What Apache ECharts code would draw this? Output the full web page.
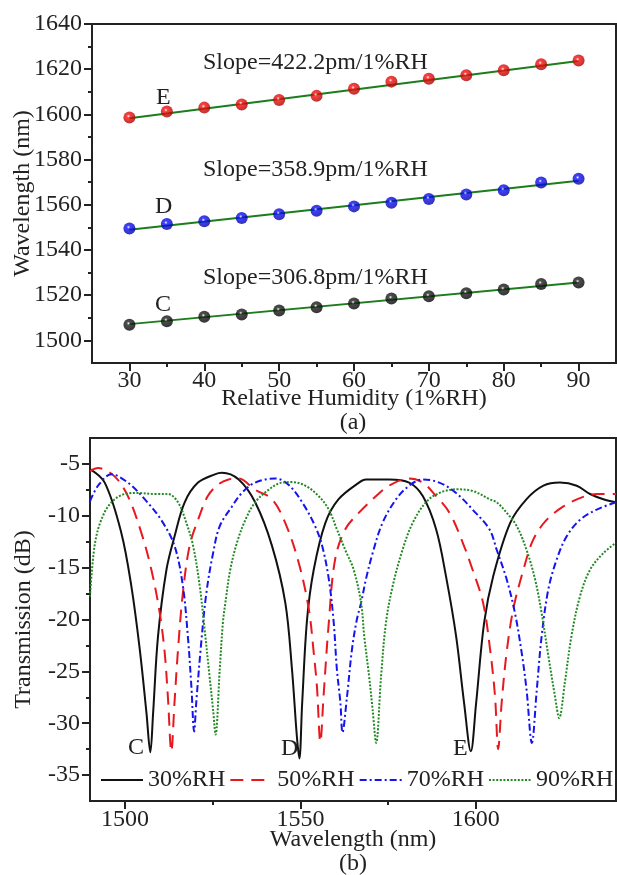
<!DOCTYPE html>
<html>
<head>
<meta charset="utf-8">
<script src="https://cdn.jsdelivr.net/npm/echarts@6/dist/echarts.min.js"></script>
<style>
  html, body { margin: 0; padding: 0; background: #fff; overflow: hidden; }
  #chart { width: 617px; height: 875px; }
</style>
</head>
<body>
<div id="chart"></div>
<script>
// (a) resonance dip wavelength vs relative humidity
const humidity = [30, 35, 40, 45, 50, 55, 60, 65, 70, 75, 80, 85, 90];
const dipE = [1598.6, 1601.3, 1603.0, 1604.4, 1606.4, 1608.2, 1611.3, 1614.5, 1615.8, 1617.3, 1619.5, 1622.2, 1623.8];
const dipD = [1549.5, 1551.5, 1552.7, 1554.2, 1555.8, 1557.4, 1559.3, 1560.9, 1562.6, 1564.6, 1566.4, 1569.9, 1571.5];
const dipC = [1506.9, 1508.5, 1510.5, 1511.5, 1513.2, 1514.7, 1516.3, 1518.5, 1519.5, 1520.9, 1522.5, 1525.0, 1525.6];

// linear fits (end points)
const fitRH = [30, 90];
const fitE = [1598.3, 1623.6];
const fitD = [1549.0, 1570.6];
const fitC = [1507.2, 1525.6];

const slopeLabels = ['Slope=422.2pm/1%RH', 'Slope=358.9pm/1%RH', 'Slope=306.8pm/1%RH'];

// tick values
const rhMajor = [30, 40, 50, 60, 70, 80, 90];
const rhMinor = [35, 45, 55, 65, 75, 85];
const wlMajor = [1500, 1520, 1540, 1560, 1580, 1600, 1620, 1640];
const wlMinor = [1510, 1530, 1550, 1570, 1590, 1610, 1630];
const specMajor = [1500, 1550, 1600];
const specMinor = [1525, 1575];
const dbMajor = [-35, -30, -25, -20, -15, -10, -5];
const dbMinor = [-32.5, -27.5, -22.5, -17.5, -12.5, -7.5];

// (b) transmission spectra [wavelength nm, dB]
const rh30 = [[1490,-5.5],[1494.2,-6.8],[1498.9,-11.6],[1501.8,-16.8],[1504.2,-22.9],[1506.1,-29.0],[1507.2,-32.8],[1508.0,-29.0],[1509.4,-21.6],[1511.8,-15.2],[1514.1,-12.0],[1517.0,-8.7],[1520.8,-6.8],[1525.6,-6.0],[1527.6,-5.85],[1532.4,-6.5],[1537.1,-8.7],[1541.9,-12.9],[1545.7,-18.4],[1547.6,-24.8],[1549.0,-31.3],[1549.7,-33.4],[1550.5,-28.1],[1551.9,-20.0],[1553.8,-15.2],[1557.1,-10.7],[1560.9,-8.4],[1566.7,-6.8],[1568.7,-6.5],[1575.3,-6.5],[1581.0,-6.8],[1584.9,-8.1],[1588.7,-11.3],[1591.5,-15.8],[1594.4,-21.6],[1596.7,-28.1],[1598.6,-32.7],[1600.1,-28.1],[1602.4,-20.3],[1605.0,-15.8],[1609.8,-10.7],[1614.5,-8.4],[1619.3,-7.1],[1624.0,-6.8],[1628.8,-7.1],[1632.6,-7.9],[1636.4,-8.4],[1640,-8.7]];
const rh50 = [[1490,-5.7],[1492.3,-5.4],[1497.0,-6.2],[1500.8,-8.1],[1504.6,-11.6],[1507.5,-15.2],[1509.9,-19.4],[1511.3,-23.2],[1512.2,-27.4],[1513.2,-32.7],[1514.1,-28.0],[1515.1,-22.9],[1516.5,-17.4],[1518.4,-12.9],[1520.8,-10.4],[1523.6,-8.1],[1526.5,-7.0],[1529.5,-6.5],[1532.4,-6.4],[1537.1,-7.5],[1541.9,-8.4],[1545.7,-10.7],[1549.5,-14.5],[1552.4,-19.0],[1553.8,-23.2],[1554.7,-26.4],[1555.7,-31.8],[1556.6,-27.4],[1558.1,-20.3],[1559.9,-14.2],[1562.8,-11.3],[1566.7,-9.7],[1571.6,-8.1],[1575.3,-7.1],[1581.0,-6.4],[1584.9,-6.8],[1588.7,-8.1],[1592.5,-9.7],[1596.3,-12.6],[1599.1,-15.2],[1602.1,-18.4],[1604.1,-22.9],[1605.5,-27.4],[1606.4,-32.5],[1607.4,-28.0],[1608.8,-23.2],[1610.7,-19.0],[1613.6,-15.2],[1616.4,-12.3],[1620.2,-10.4],[1625.0,-9.1],[1629.7,-8.3],[1634.5,-7.9],[1640,-7.9]];
const rh70 = [[1490,-8.6],[1492.3,-7.1],[1496.1,-6.0],[1500.8,-6.8],[1505.6,-8.4],[1510.3,-10.4],[1514.1,-12.9],[1516.5,-16.8],[1517.9,-21.6],[1518.9,-26.4],[1519.7,-30.8],[1520.3,-28.0],[1521.7,-22.3],[1523.2,-17.4],[1525.1,-13.6],[1527.0,-11.0],[1530.5,-9.1],[1533.3,-7.8],[1537.1,-6.8],[1542.8,-6.4],[1546.6,-7.0],[1550.5,-8.7],[1554.2,-11.0],[1556.2,-12.9],[1558.1,-16.1],[1559.5,-20.3],[1560.4,-24.8],[1561.4,-28.0],[1562.0,-30.9],[1563.3,-27.4],[1564.7,-22.9],[1566.1,-20.0],[1567.3,-18.4],[1568.7,-16.1],[1570.6,-13.6],[1573.4,-10.7],[1577.3,-8.4],[1581.0,-7.1],[1584.9,-6.5],[1589.6,-6.8],[1594.4,-7.8],[1599.1,-9.4],[1603.9,-11.3],[1606.0,-13.3],[1608.8,-16.1],[1611.2,-19.4],[1613.1,-23.2],[1614.5,-26.8],[1616.0,-31.9],[1617.4,-26.8],[1618.8,-21.6],[1620.7,-17.1],[1623.1,-14.2],[1625.9,-12.0],[1629.7,-10.4],[1634.5,-9.4],[1640,-8.7]];
const rh90 = [[1490,-17.8],[1491.3,-12.9],[1493.2,-10.4],[1496.1,-8.7],[1499.9,-7.9],[1503.7,-7.8],[1508.4,-7.9],[1512.2,-7.9],[1515.1,-8.7],[1517.5,-10.7],[1519.4,-12.9],[1521.3,-16.8],[1522.7,-21.0],[1524.1,-25.5],[1525.1,-28.7],[1525.8,-31.1],[1527.0,-24.8],[1527.9,-20.3],[1528.6,-18.4],[1530.0,-15.2],[1531.9,-12.6],[1534.3,-10.4],[1537.1,-8.7],[1540.9,-7.5],[1544.7,-6.8],[1547.6,-6.75],[1551.4,-7.1],[1555.2,-8.1],[1558.1,-9.4],[1560.4,-11.3],[1562.8,-13.3],[1565.2,-15.2],[1567.3,-18.4],[1568.2,-21.6],[1569.6,-25.5],[1570.6,-28.7],[1571.6,-31.9],[1573.0,-25.5],[1574.4,-20.3],[1576.3,-16.8],[1579.1,-13.3],[1582.0,-10.7],[1585.8,-8.7],[1589.6,-7.8],[1594.4,-7.45],[1599.1,-7.6],[1603.9,-8.4],[1606.0,-8.7],[1608.8,-9.7],[1611.7,-11.0],[1614.5,-13.3],[1616.9,-16.1],[1618.8,-19.4],[1620.7,-23.5],[1622.6,-27.4],[1623.8,-29.5],[1625.4,-26.1],[1627.3,-21.6],[1629.7,-17.8],[1632.6,-15.2],[1636.4,-13.6],[1640,-12.6]];

const FONT = 'Liberation Serif';
const INK = '#222';

const zip = (xs, ys) => xs.map((x, i) => [x, ys[i]]);
const plain = (v) => String(v);

// shaded "ball" marker
const ball = (base, dark) => ({
  type: 'radial', x: 0.42, y: 0.38, r: 0.65,
  colorStops: [
    { offset: 0, color: '#ffffff' },
    { offset: 0.22, color: base },
    { offset: 1, color: dark },
  ],
});

const axisCommon = {
  type: 'value',
  axisLine: { show: true, onZero: false, lineStyle: { color: INK, width: 2 } },
  axisTick: { show: true, inside: false, length: 8, lineStyle: { color: INK, width: 2 } },
  axisLabel: { color: INK, fontFamily: FONT, fontSize: 24, formatter: plain },
  splitLine: { show: false },
  nameTextStyle: { color: INK, fontFamily: FONT, fontSize: 24 },
  nameLocation: 'middle',
  nameMoveOverlap: false,
};

const minorAxis = (extra) => Object.assign({
  type: 'value',
  axisLine: { show: false, onZero: false },
  axisLabel: { show: false },
  splitLine: { show: false },
}, extra);

const minorTick = (values) => ({ show: true, inside: false, length: 4, customValues: values, lineStyle: { color: INK, width: 2 } });

const chart = echarts.init(document.getElementById('chart'));

const specLine = (name, data, color, type) => ({
  name, type: 'line', xAxisIndex: 2, yAxisIndex: 2, data,
  symbol: 'none', smooth: 0.35, color,
  lineStyle: { color, width: 2, type },
});

const option = {
  animation: false,
  backgroundColor: '#fff',
  grid: [
    { left: 92, top: 24, width: 524, height: 339, show: true, borderColor: INK, borderWidth: 2, outerBoundsMode: 'none', containLabel: false },
    { left: 90, top: 438, width: 526, height: 363, show: true, borderColor: INK, borderWidth: 2, outerBoundsMode: 'none', containLabel: false },
  ],
  xAxis: [
    Object.assign({}, axisCommon, {
      gridIndex: 0, position: 'bottom', min: 25, max: 95,
      name: 'Relative Humidity (1%RH)', nameGap: 24,
      axisLabel: Object.assign({}, axisCommon.axisLabel, { customValues: rhMajor, margin: 6 }),
      axisTick: Object.assign({}, axisCommon.axisTick, { customValues: rhMajor }),
    }),
    minorAxis({ gridIndex: 0, position: 'bottom', min: 25, max: 95, axisTick: minorTick(rhMinor) }),
    Object.assign({}, axisCommon, {
      gridIndex: 1, position: 'bottom', min: 1490, max: 1640,
      name: 'Wavelength (nm)', nameGap: 27,
      axisLabel: Object.assign({}, axisCommon.axisLabel, { customValues: specMajor, margin: 7 }),
      axisTick: Object.assign({}, axisCommon.axisTick, { customValues: specMajor }),
    }),
    minorAxis({ gridIndex: 1, position: 'bottom', min: 1490, max: 1640, axisTick: minorTick(specMinor) }),
  ],
  yAxis: [
    Object.assign({}, axisCommon, {
      gridIndex: 0, position: 'left', min: 1490, max: 1640,
      name: 'Wavelength (nm)', nameGap: 57,
      axisLabel: Object.assign({}, axisCommon.axisLabel, { customValues: wlMajor, margin: 10 }),
      axisTick: Object.assign({}, axisCommon.axisTick, { customValues: wlMajor }),
    }),
    minorAxis({ gridIndex: 0, position: 'left', min: 1490, max: 1640, axisTick: minorTick(wlMinor) }),
    Object.assign({}, axisCommon, {
      gridIndex: 1, position: 'left', min: -37.5, max: -2.5,
      name: 'Transmission (dB)', nameGap: 54,
      axisLabel: Object.assign({}, axisCommon.axisLabel, { customValues: dbMajor, margin: 10 }),
      axisTick: Object.assign({}, axisCommon.axisTick, { customValues: dbMajor }),
    }),
    minorAxis({ gridIndex: 1, position: 'left', min: -37.5, max: -2.5, axisTick: minorTick(dbMinor) }),
  ],
  legend: {
    data: ['30%RH', '50%RH', '70%RH', '90%RH'],
    left: 100, top: 768, width: 540, padding: 0,
    itemWidth: 42, itemHeight: 14, itemGap: 4,
    itemStyle: { opacity: 0 },
    textStyle: { color: INK, fontFamily: FONT, fontSize: 24 },
  },
  graphic: [
    { type: 'text', x: 203, y: 63, style: { text: slopeLabels[0], fill: INK, fontFamily: FONT, fontSize: 24, verticalAlign: 'middle' } },
    { type: 'text', x: 156, y: 98, style: { text: 'E', fill: INK, fontFamily: FONT, fontSize: 24, verticalAlign: 'middle' } },
    { type: 'text', x: 203, y: 170, style: { text: slopeLabels[1], fill: INK, fontFamily: FONT, fontSize: 24, verticalAlign: 'middle' } },
    { type: 'text', x: 155, y: 207, style: { text: 'D', fill: INK, fontFamily: FONT, fontSize: 24, verticalAlign: 'middle' } },
    { type: 'text', x: 203, y: 278, style: { text: slopeLabels[2], fill: INK, fontFamily: FONT, fontSize: 24, verticalAlign: 'middle' } },
    { type: 'text', x: 155, y: 305, style: { text: 'C', fill: INK, fontFamily: FONT, fontSize: 24, verticalAlign: 'middle' } },
    { type: 'text', x: 353, y: 423, style: { text: '(a)', fill: INK, fontFamily: FONT, fontSize: 24, align: 'center', verticalAlign: 'middle' } },
    { type: 'text', x: 128, y: 748, style: { text: 'C', fill: INK, fontFamily: FONT, fontSize: 24, verticalAlign: 'middle' } },
    { type: 'text', x: 281, y: 749, style: { text: 'D', fill: INK, fontFamily: FONT, fontSize: 24, verticalAlign: 'middle' } },
    { type: 'text', x: 453, y: 749, style: { text: 'E', fill: INK, fontFamily: FONT, fontSize: 24, verticalAlign: 'middle' } },
    { type: 'text', x: 353, y: 864, style: { text: '(b)', fill: INK, fontFamily: FONT, fontSize: 24, align: 'center', verticalAlign: 'middle' } },
  ],
  series: [
    // linear fits
    { name: 'fitE', type: 'line', xAxisIndex: 0, yAxisIndex: 0, data: zip(fitRH, fitE), symbol: 'none', lineStyle: { color: '#1b7d1b', width: 2 }, z: 2 },
    { name: 'fitD', type: 'line', xAxisIndex: 0, yAxisIndex: 0, data: zip(fitRH, fitD), symbol: 'none', lineStyle: { color: '#1b7d1b', width: 2 }, z: 2 },
    { name: 'fitC', type: 'line', xAxisIndex: 0, yAxisIndex: 0, data: zip(fitRH, fitC), symbol: 'none', lineStyle: { color: '#1b7d1b', width: 2 }, z: 2 },
    // measured dips
    { name: 'E', type: 'scatter', xAxisIndex: 0, yAxisIndex: 0, data: zip(humidity, dipE), symbolSize: 12, itemStyle: { color: ball('#ff1010', '#a00000') }, z: 3 },
    { name: 'D', type: 'scatter', xAxisIndex: 0, yAxisIndex: 0, data: zip(humidity, dipD), symbolSize: 12, itemStyle: { color: ball('#1010ff', '#0000a0') }, z: 3 },
    { name: 'C', type: 'scatter', xAxisIndex: 0, yAxisIndex: 0, data: zip(humidity, dipC), symbolSize: 12, itemStyle: { color: ball('#222', '#000') }, z: 3 },
    // spectra
    specLine('30%RH', rh30, '#111111', 'solid'),
    specLine('50%RH', rh50, '#e8191e', [13, 8]),
    specLine('70%RH', rh70, '#1414f0', [7, 3, 2, 3]),
    specLine('90%RH', rh90, '#238a23', [2, 1.6]),
  ],
};

chart.setOption(option);
</script>
</body>
</html>
